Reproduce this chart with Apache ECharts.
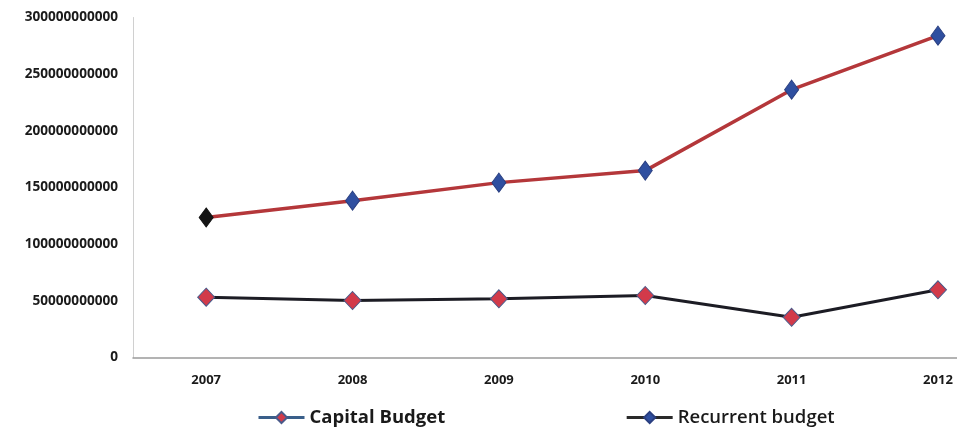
<!DOCTYPE html>
<html>
<head>
<meta charset="utf-8">
<script src="https://cdn.jsdelivr.net/npm/echarts@6/dist/echarts.min.js"></script>
<style>
  html, body { margin: 0; padding: 0; background: #fff; }
  #chart { width: 957px; height: 430px; }
</style>
</head>
<body>
<div id="chart"></div>
<script>
const years = [2007, 2008, 2009, 2010, 2011, 2012];
const capitalBudget = [53200000000, 50300000000, 51800000000, 54700000000, 35500000000, 59700000000];
const recurrentBudget = [123500000000, 138400000000, 154300000000, 164900000000, 236300000000, 284000000000];
const yTicks = [0, 50000000000, 100000000000, 150000000000, 200000000000, 250000000000, 300000000000];

const chart = echarts.init(document.getElementById('chart'));
const font = '"Open Sans", "DejaVu Sans", sans-serif';

chart.setOption({
  animation: false,
  backgroundColor: '#ffffff',
  grid: { left: 133, right: 0, top: 17.5, bottom: 72.5, containLabel: false },
  xAxis: {
    type: 'value',
    min: years[0] - 0.5,
    max: years[years.length - 1] + 0.13,
    interval: 0.5,
    axisLine: { show: true, onZero: false, lineStyle: { color: '#9a9a9a', width: 1.5 } },
    axisTick: { show: false },
    splitLine: { show: false },
    axisLabel: {
      color: '#1a1a1a', fontFamily: font, fontWeight: 'bold', fontSize: 13, margin: 16,
      showMaxLabel: false,
      formatter: v => Number.isInteger(v) ? String(v) : ''
    }
  },
  yAxis: {
    type: 'value',
    min: yTicks[0],
    max: yTicks[yTicks.length - 1],
    interval: yTicks[1] - yTicks[0],
    axisLine: { show: true, lineStyle: { color: '#d0d0d0', width: 1 } },
    axisTick: { show: false },
    splitLine: { show: false },
    axisLabel: {
      color: '#1a1a1a', fontFamily: font, fontWeight: 'bold', fontSize: 13.6, margin: 15,
      formatter: v => String(v)
    }
  },
  legend: {
    left: 252,
    top: 403,
    itemWidth: 46,
    itemHeight: 14,
    itemGap: 180,
    textStyle: { fontFamily: font, fontSize: 18.5, color: '#1a1a1a' },
    data: [
      { name: 'Capital Budget',
        lineStyle: { color: '#3a5f8a', width: 3 },
        itemStyle: { color: '#d23a4a' },
        textStyle: { fontWeight: 'bold' } },
      { name: 'Recurrent budget',
        lineStyle: { color: '#2a2a2a', width: 3 },
        itemStyle: { color: '#2f4fa0' },
        textStyle: { fontWeight: 600 } }
    ]
  },
  series: [
    {
      name: 'Capital Budget',
      type: 'line',
      data: years.map((y, i) => [y, capitalBudget[i]]),
      symbol: 'diamond',
      symbolSize: [17, 18],
      lineStyle: { color: '#1c1c24', width: 3 },
      itemStyle: { color: '#d23a4a', borderColor: '#4a5a8a', borderWidth: 1 },
      z: 3
    },
    {
      name: 'Recurrent budget',
      type: 'line',
      data: years.map((y, i) => i === 0
        ? { value: [y, recurrentBudget[i]], itemStyle: { color: '#141414', borderColor: '#141414' } }
        : [y, recurrentBudget[i]]),
      symbol: 'diamond',
      symbolSize: [14, 19],
      lineStyle: { color: '#b4373a', width: 3.5 },
      itemStyle: { color: '#2f4fa0', borderColor: '#2a3f80', borderWidth: 1 },
      z: 3
    }
  ]
});
</script>
</body>
</html>
